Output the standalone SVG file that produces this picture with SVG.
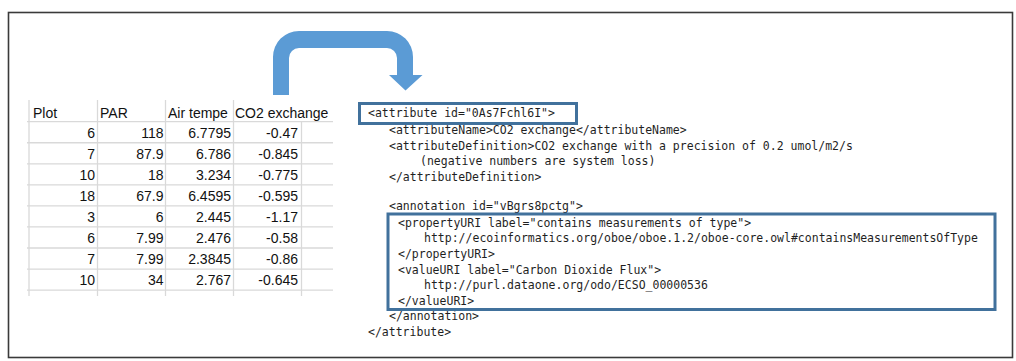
<svg xmlns="http://www.w3.org/2000/svg" width="1016" height="361" viewBox="0 0 1016 361">
<style>
.grid{stroke:#d9d9d9;stroke-width:1.3;fill:none}
.cell{font-family:"Liberation Sans",Arial,sans-serif;font-size:14px;fill:#111111}
.num{text-anchor:end}
.code{font-family:"DejaVu Sans Mono","Liberation Mono",monospace;font-size:11.5px;fill:#1f1f1f;white-space:pre}
.hl{fill:none;stroke:#41719c;stroke-width:3}
</style>
<rect x="0" y="0" width="1016" height="361" fill="#ffffff"/>
<rect id="frame" x="8.5" y="12.5" width="1004" height="345" fill="none" stroke="#3a3a3a" stroke-width="1.6"/>

<g id="spreadsheet">
  <g class="grid">
    <line x1="29" y1="100" x2="29" y2="296"/>
    <line x1="97.5" y1="100" x2="97.5" y2="296"/>
    <line x1="165.5" y1="100" x2="165.5" y2="296"/>
    <line x1="233.5" y1="100" x2="233.5" y2="296"/>
    <line x1="301.5" y1="121.7" x2="301.5" y2="296"/>
    <line x1="27" y1="121.7" x2="333" y2="121.7"/>
    <line x1="27" y1="142.75" x2="333" y2="142.75"/>
    <line x1="27" y1="163.8" x2="333" y2="163.8"/>
    <line x1="27" y1="184.85" x2="333" y2="184.85"/>
    <line x1="27" y1="205.9" x2="333" y2="205.9"/>
    <line x1="27" y1="226.95" x2="333" y2="226.95"/>
    <line x1="27" y1="248" x2="333" y2="248"/>
    <line x1="27" y1="269.05" x2="333" y2="269.05"/>
    <line x1="27" y1="290.1" x2="333" y2="290.1"/>
  </g>
  <g class="cell">
    <text x="33" y="117.5">Plot</text>
    <text x="100" y="117.5">PAR</text>
    <text x="168" y="117.5">Air tempe</text>
    <text x="235" y="117.5">CO2 exchange</text>
  </g>
  <g class="cell num">
    <text x="95" y="138">6</text><text x="163.5" y="138">118</text><text x="231" y="138">6.7795</text><text x="298" y="138">-0.47</text>
    <text x="95" y="159.05">7</text><text x="163.5" y="159.05">87.9</text><text x="231" y="159.05">6.786</text><text x="298" y="159.05">-0.845</text>
    <text x="95" y="180.1">10</text><text x="163.5" y="180.1">18</text><text x="231" y="180.1">3.234</text><text x="298" y="180.1">-0.775</text>
    <text x="95" y="201.15">18</text><text x="163.5" y="201.15">67.9</text><text x="231" y="201.15">6.4595</text><text x="298" y="201.15">-0.595</text>
    <text x="95" y="222.2">3</text><text x="163.5" y="222.2">6</text><text x="231" y="222.2">2.445</text><text x="298" y="222.2">-1.17</text>
    <text x="95" y="243.25">6</text><text x="163.5" y="243.25">7.99</text><text x="231" y="243.25">2.476</text><text x="298" y="243.25">-0.58</text>
    <text x="95" y="264.3">7</text><text x="163.5" y="264.3">7.99</text><text x="231" y="264.3">2.3845</text><text x="298" y="264.3">-0.86</text>
    <text x="95" y="285.35">10</text><text x="163.5" y="285.35">34</text><text x="231" y="285.35">2.767</text><text x="298" y="285.35">-0.645</text>
  </g>
</g>

<g id="connectors">
  <path id="bent-arrow" d="M273 95 L273 57 A26 26 0 0 1 299 31 L387 31 A26 26 0 0 1 413 57 L413 75 L422.5 75 L405.5 90.5 L389 75 L397 75 L397 58 A10 10 0 0 0 387 48 L299 48 A10 10 0 0 0 289 58 L289 95 Z" fill="#5b9bd5"/>
</g>

<g id="xml">
  <g class="code">
    <text x="368" y="117">&lt;attribute id="0As7Fchl6I"&gt;</text>
    <text x="389" y="134">&lt;attributeName&gt;CO2 exchange&lt;/attributeName&gt;</text>
    <text x="389" y="149.5">&lt;attributeDefinition&gt;CO2 exchange with a precision of 0.2 umol/m2/s</text>
    <text x="420" y="165">(negative numbers are system loss)</text>
    <text x="389" y="180.5">&lt;/attributeDefinition&gt;</text>
    <text x="389" y="209.5">&lt;annotation id="vBgrs8pctg"&gt;</text>
    <text x="398" y="226.5">&lt;propertyURI label="contains measurements of type"&gt;</text>
    <text x="424" y="242">http://ecoinformatics.org/oboe/oboe.1.2/oboe-core.owl#containsMeasurementsOfType</text>
    <text x="398" y="258">&lt;/propertyURI&gt;</text>
    <text x="398" y="273.5">&lt;valueURI label="Carbon Dioxide Flux"&gt;</text>
    <text x="424" y="289">http://purl.dataone.org/odo/ECSO_00000536</text>
    <text x="398" y="304.5">&lt;/valueURI&gt;</text>
    <text x="389" y="320">&lt;/annotation&gt;</text>
    <text x="368" y="335.5">&lt;/attribute&gt;</text>
  </g>
</g>

<g id="highlight-attribute">
  <rect class="hl" x="359.5" y="103.5" width="217" height="20"/>
</g>
<g id="highlight-annotation">
  <rect class="hl" x="388" y="214" width="607" height="95.5"/>
</g>
</svg>
